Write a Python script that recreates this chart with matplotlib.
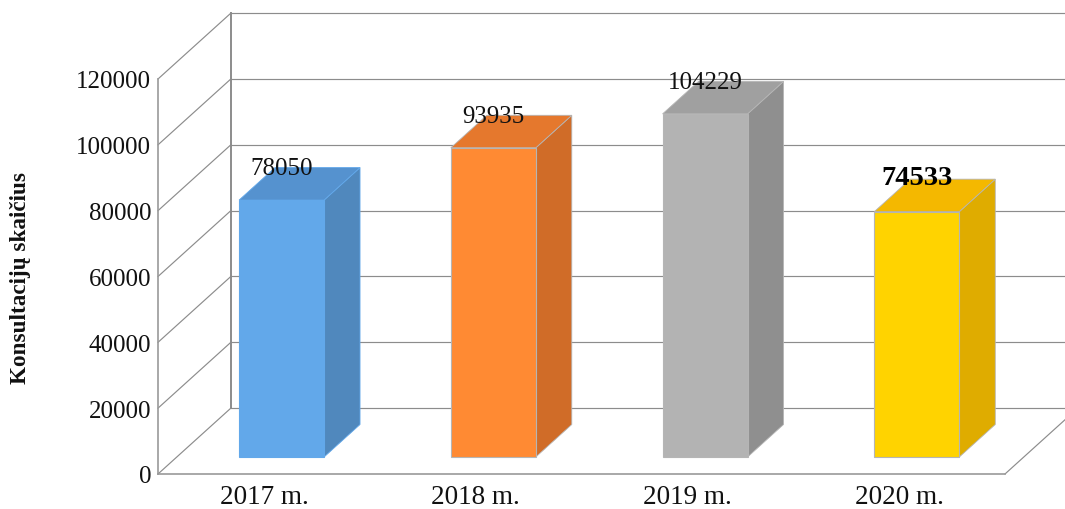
import matplotlib
matplotlib.use("Agg")
import matplotlib.pyplot as plt
from matplotlib.patches import Polygon

plt.rcParams["font.family"] = ["Liberation Serif", "DejaVu Serif"]

# data
years = ["2017 m.", "2018 m.", "2019 m.", "2020 m."]
values = [78050, 93935, 104229, 74533]
y_ticks = [0, 20000, 40000, 60000, 80000, 100000, 120000]
y_title = "Konsultacijų skaičius"

# colours per bar
front_colors = ["#62A8EA", "#FF8A33", "#B3B3B3", "#FFD300"]
top_colors = ["#5592CF", "#E5782D", "#A0A0A0", "#F4B800"]
side_colors = ["#5088BD", "#D06C28", "#8F8F8F", "#DFAC00"]
edge_colors = ["#62A8EA", "#B5B5B5", "#B5B5B5", "#B5B5B5"]

grid_color = "#8C8C8C"

fig = plt.figure(figsize=(10.65, 5.10), dpi=100)
ax = fig.add_axes([158 / 1065, (510 - 475) / 510, 847 / 1065, 395 / 510])
ax.set_xlim(0, len(years))
ax.set_ylim(0, 120000)

# oblique projection: depth 0 is the front edge of the floor, 1 the back wall
depth_x = 73 / 847 * len(years)
depth_y = 66 / 395 * 120000


def project(x, y, depth):
    return (x + depth * depth_x, y + depth * depth_y)


# walls and gridlines
x_end = len(years)
for t in y_ticks:
    ax.plot(*zip(project(0, t, 0), project(0, t, 1)), color=grid_color, lw=0.85, clip_on=False, zorder=1)
    ax.plot(*zip(project(0, t, 1), project(x_end, t, 1)), color=grid_color, lw=0.85, clip_on=False, zorder=1)
ax.plot(*zip(project(0, 0, 1), project(0, 120000, 1)), color=grid_color, lw=1.4, clip_on=False, zorder=1)
ax.plot(*zip(project(x_end, 0, 0), project(x_end, 0, 1)), color=grid_color, lw=0.85, clip_on=False, zorder=1)

# 3d bars
bar_width = 85 / 847 * len(years)
bar_shift = -1.1 / 847 * len(years)
d0 = 17 / 66
d1 = 49.5 / 66
for i, v in enumerate(values):
    x0 = i + 0.5 + bar_shift - bar_width / 2
    x1 = i + 0.5 + bar_shift + bar_width / 2
    side = [project(x1, 0, d0), project(x1, 0, d1), project(x1, v, d1), project(x1, v, d0)]
    top = [project(x0, v, d0), project(x1, v, d0), project(x1, v, d1), project(x0, v, d1)]
    front = [project(x0, 0, d0), project(x1, 0, d0), project(x1, v, d0), project(x0, v, d0)]
    ax.add_patch(Polygon(side, facecolor=side_colors[i], edgecolor=edge_colors[i], lw=0.6, clip_on=False, zorder=3))
    ax.add_patch(Polygon(top, facecolor=top_colors[i], edgecolor=edge_colors[i], lw=0.6, clip_on=False, zorder=3))
    ax.add_patch(Polygon(front, facecolor=front_colors[i], edgecolor=edge_colors[i], lw=0.8, clip_on=False, zorder=4))

    # value labels, the last one is bold
    lx, ly = project(i + 0.5 + bar_shift, v, d0)
    if i == len(values) - 1:
        ax.annotate(str(v), (lx, ly), xytext=(0, 34 * 0.72), textcoords="offset points", ha="center", va="center",
                    fontsize=20.5, fontweight="bold", color="black", zorder=5, annotation_clip=False)
    else:
        ax.annotate(str(v), (lx, ly), xytext=(0, 32 * 0.72), textcoords="offset points", ha="center", va="center",
                    fontsize=18, color="#111111", zorder=5, annotation_clip=False)

# axes
ax.set_xticks([i + 0.5 for i in range(len(years))])
ax.set_xticklabels(years, fontsize=19.5, color="#111111")
ax.set_yticks(y_ticks)
ax.set_yticklabels([str(t) for t in y_ticks], fontsize=18, color="#111111")
ax.tick_params(axis="both", length=0)
ax.tick_params(axis="y", pad=5)
ax.tick_params(axis="x", pad=7)
for name in ["top", "right"]:
    ax.spines[name].set_visible(False)
for name in ["left", "bottom"]:
    ax.spines[name].set_color("#9A9A9A")
    ax.spines[name].set_linewidth(1.2)
ax.patch.set_alpha(0)

fig.text(21 / 1065, (510 - 278) / 510, y_title, rotation=90, ha="center", va="center",
         fontsize=16.7, fontweight="bold", color="#111111")

fig.savefig("out.png", dpi=100)
